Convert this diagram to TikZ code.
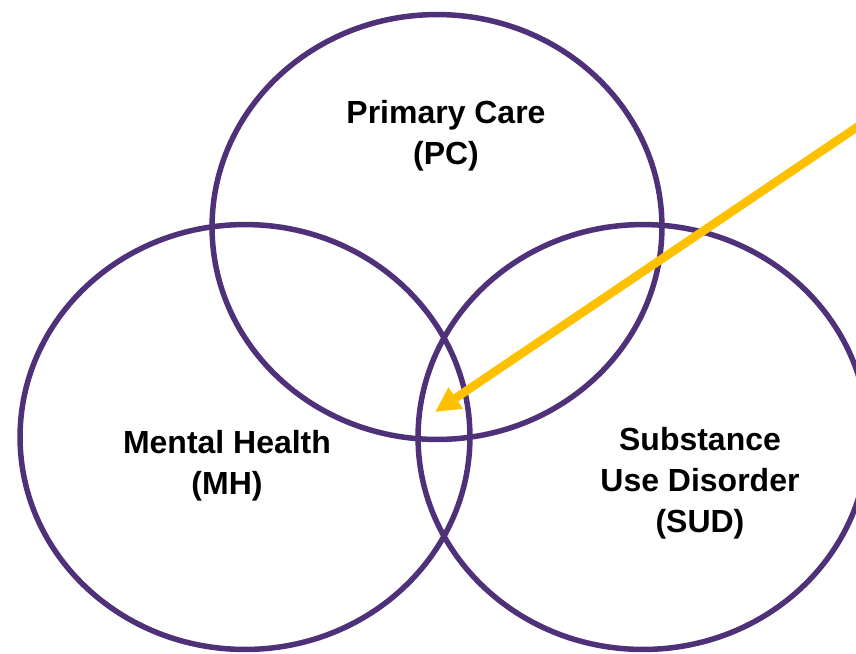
\documentclass[tikz,border=0pt]{standalone}
\usepackage{fontspec}
\setmainfont{Liberation Sans}
\usepackage{tikz}
\usetikzlibrary{shapes.geometric, arrows.meta}
\definecolor{ringpurple}{RGB}{79,49,121}
\definecolor{arrowgold}{RGB}{255,192,0}
\tikzstyle{ring} = [draw=ringpurple, line width=0.11cm, ellipse, inner sep=0pt, minimum width=9cm, minimum height=8.5cm]
\tikzstyle{area} = [align=center, font=\bfseries\fontsize{18.2}{23.2}\selectfont]
\tikzstyle{pointer} = [draw=arrowgold, line width=0.17cm, -{Triangle[length=0.5cm, width=0.48cm]}]

\begin{document}
\begin{tikzpicture}[x=0.02cm, y=-0.02cm]
	\useasboundingbox (0,0) rectangle (856,653);
	% three fields
	\node[ring] (pc) at (437,227) {};
	\node[ring] (mh) at (245,437) {};
	\node[ring] (sud) at (643,437) {};
	% labels
	\node[area] (pctext) at (446,136) {Primary Care\\(PC)};
	\node[area] (mhtext) at (227,466) {Mental Health\\(MH)};
	\node[area] (sudtext) at (700,483) {Substance\\Use Disorder\\(SUD)};
	% pointer to the middle
	\coordinate (start) at (872,117);
	\coordinate (centre) at (435,412);
	\draw[pointer] (start) -- (centre);
\end{tikzpicture}
\end{document}
